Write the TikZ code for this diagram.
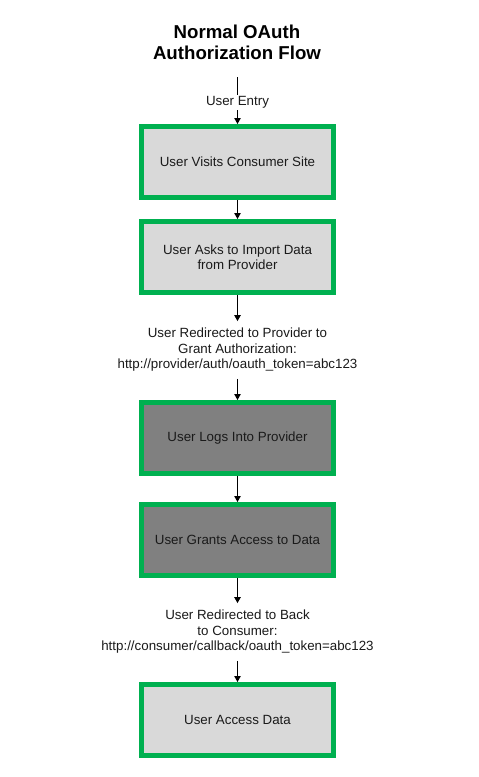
\documentclass[tikz,border=0pt]{standalone}
\usepackage{fontspec}
\setmainfont{Liberation Sans}
\usetikzlibrary{arrows.meta}
\definecolor{boxgreen}{HTML}{00B050}
\definecolor{lightfill}{HTML}{D9D9D9}
\definecolor{darkfill}{HTML}{808080}
\definecolor{txt}{HTML}{1A1A1A}
\tikzset{
  box/.style={draw=boxgreen, line width=5pt, minimum width=192pt, minimum height=71pt,
    font=\fontsize{13.33}{15.5}\selectfont, align=center, text=txt},
  lightbox/.style={box, fill=lightfill},
  darkbox/.style={box, fill=darkfill},
  lbl/.style={font=\fontsize{13.33}{15.5}\selectfont, align=center, inner xsep=0pt, text=txt},
  titlestyle/.style={font=\fontsize{18.67}{21.5}\selectfont\bfseries, align=center, inner sep=0pt},
  link/.style={draw=black, line width=0.9pt},
  flow/.style={link, -{Triangle[length=6pt,width=6.5pt]}}
}
\begin{document}
\begin{tikzpicture}[x=1pt,y=-1pt]
\useasboundingbox[fill=white] (0,0) rectangle (479,777);
\node[titlestyle] (title) at (237,42.5) {Normal OAuth\\Authorization Flow};
\node[lightbox] (b1) at (237.5,162) {User Visits Consumer Site};
\node[lightbox] (b2) at (237.5,257) {User Asks to Import Data\\from Provider};
\node[darkbox] (b3) at (237.5,438) {User Logs Into Provider};
\node[darkbox] (b4) at (237.5,540) {User Grants Access to Data};
\node[lightbox] (b5) at (237.5,720) {User Access Data};
\coordinate (start) at (237.5,77);
\node[lbl, inner ysep=1.5pt] (l1) at (237.5,102.5) {User Entry};
\node[lbl, inner ysep=7pt] (l2) at (237.5,350) {User Redirected to Provider to\\Grant Authorization:\\http://provider/auth/oauth\_token=abc123};
\node[lbl, inner ysep=7pt] (l3) at (237.5,632) {User Redirected to Back\\to Consumer:\\http://consumer/callback/oauth\_token=abc123};
\draw[link] (start) -- (l1);
\draw[flow] (l1) -- (b1);
\draw[flow] (b1) -- (b2);
\draw[flow] (b2) -- (l2);
\draw[flow] (l2) -- (b3);
\draw[flow] (b3) -- (b4);
\draw[flow] (b4) -- (l3);
\draw[flow] (l3) -- (b5);
\end{tikzpicture}
\end{document}
